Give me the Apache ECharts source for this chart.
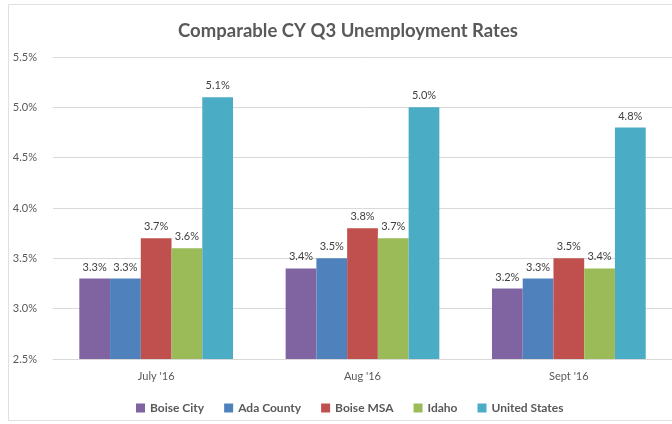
<!DOCTYPE html>
<html><head><meta charset="utf-8">
<script src="https://cdn.jsdelivr.net/npm/echarts@6/dist/echarts.min.js"></script>
<style>html,body{margin:0;padding:0;background:#fff}#c{width:672px;height:424px}</style>
</head><body><div id="c"></div>
<script>
const categories = ["July '16", "Aug '16", "Sept '16"];
const seriesNames = ["Boise City", "Ada County", "Boise MSA", "Idaho", "United States"];
const boiseCity = [3.3, 3.4, 3.2];
const adaCounty = [3.3, 3.5, 3.3];
const boiseMSA = [3.7, 3.8, 3.5];
const idaho = [3.6, 3.7, 3.4];
const unitedStates = [5.1, 5.0, 4.8];
const yMin = 2.5, yMax = 5.5, yStep = 0.5;

const colors = ['#8064A2', '#4F81BD', '#C0504D', '#9BBB59', '#4BACC6'];
const allData = [boiseCity, adaCounty, boiseMSA, idaho, unitedStates];
const font = 'Lato, "Open Sans", sans-serif';

const chart = echarts.init(document.getElementById('c'));
chart.setOption({
  animation: false,
  color: colors,
  textStyle: { fontFamily: font },
  graphic: [{
    type: 'rect', shape: { x: 8.5, y: 4.5, width: 700, height: 416 },
    style: { fill: 'none', stroke: '#e0e0e0', lineWidth: 1 }, z: -10
  }],
  title: {
    text: 'Comparable CY Q3 Unemployment Rates',
    left: 343, top: 17, textAlign: 'center',
    textStyle: { fontFamily: font, fontSize: 18.5, fontWeight: 'bold', color: '#595959' }
  },
  legend: {
    data: seriesNames, top: 397, left: 131,
    itemWidth: 9, itemHeight: 9, itemGap: 20, icon: 'rect',
    textStyle: { fontFamily: font, fontSize: 12, fontWeight: 'bold', color: '#595959' }
  },
  grid: { left: 53, top: 57, width: 636, height: 302, containLabel: false },
  xAxis: {
    type: 'category', data: categories,
    axisLine: { lineStyle: { color: '#d9d9d9' } },
    axisTick: { show: false },
    axisLabel: { fontFamily: font, fontSize: 11, color: '#595959', margin: 12 }
  },
  yAxis: {
    type: 'value', min: yMin, max: yMax, interval: yStep,
    axisLine: { show: false }, axisTick: { show: false },
    splitLine: { lineStyle: { color: '#d9d9d9' } },
    axisLabel: { fontFamily: font, fontSize: 11, color: '#595959', margin: 16,
      formatter: v => v.toFixed(1) + '%' }
  },
  series: seriesNames.map((n, i) => ({
    name: n, type: 'bar', data: allData[i],
    barGap: '0%', barCategoryGap: '25.5%',
    label: { show: true, position: 'top', distance: 6, fontFamily: font, fontSize: 11, color: '#404040',
      formatter: p => p.value.toFixed(1) + '%' }
  }))
});
</script></body></html>
